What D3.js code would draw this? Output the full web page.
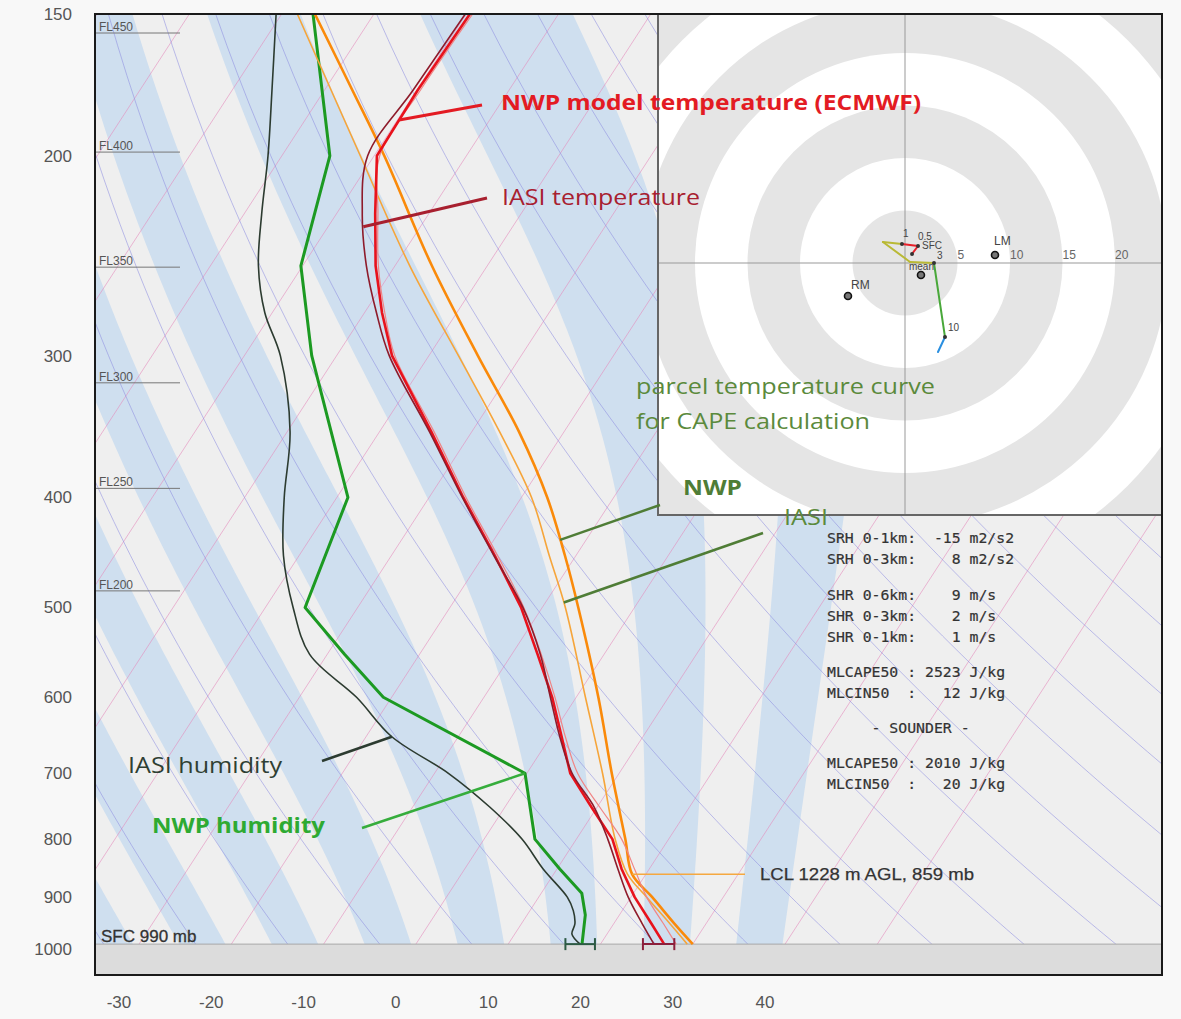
<!DOCTYPE html>
<html>
<head>
<meta charset="utf-8">
<script src="https://cdn.jsdelivr.net/npm/d3@7/dist/d3.min.js"></script>
<style>
  body { margin: 0; background: #f8f8f8; }
  text { font-family: "Liberation Sans", Arial, sans-serif; }
  .note { font-family: "Open Sans", sans-serif; }
  .mono { font-family: "DejaVu Sans Mono", monospace; white-space: pre; }
</style>
</head>
<body>
<svg id="skewt" width="1181" height="1019"></svg>
<script>
// ---- sounding data (pressure hPa, temperature degC) ----
const tempLevels = [150, 175, 200, 225, 250, 275, 300, 350, 400, 450, 500, 550, 600, 650, 700, 750, 800, 850, 900, 950, 990];
const nwpTemp  = [-59.6, -59.9, -59.7, -55.8, -52.1, -48.1, -44.0, -34.4, -26.3, -18.8, -12.3, -7.2, -2.6, 1.2, 4.7, 9.4, 13.9, 17.0, 20.4, 24.1, 26.9];
const iasiTemp = [-60.1, -60.4, -60.7, -57.2, -53.1, -48.7, -44.3, -34.6, -26.4, -18.9, -12.1, -6.9, -2.8, 1.0, 4.9, 9.7, 13.4, 16.6, 19.7, 23.1, 25.8];
const virtTemp = [-59.3, -59.6, -59.4, -55.5, -51.8, -47.8, -43.7, -34.1, -26.0, -18.5, -12.0, -6.8, -2.3, 1.6, 5.5, 10.3, 14.9, 18.4, 21.7, 25.4, 28.2];

const parcelLevels = [150, 175, 200, 250, 300, 350, 400, 450, 500, 600, 700, 800, 859, 900, 950, 990];
const nwpParcel  = [-76.4, -67.0, -58.9, -46.0, -34.7, -24.9, -17.2, -11.2, -6.1, 2.4, 9.2, 15.3, 18.5, 22.3, 26.6, 30.0];
const iasiParcel = [-78.3, -69.3, -61.5, -48.4, -36.8, -27.0, -18.9, -12.9, -7.5, 1.0, 8.2, 14.2, 18.0, 21.7, 26.1, 29.4];

const nwpDewLevels = [150, 200, 250, 300, 400, 500, 550, 600, 700, 800, 850, 893, 933, 990];
const nwpDew = [-76.6, -64.8, -60.2, -52.7, -38.8, -35.7, -28.1, -20.9, -0.2, 5.5, 10.3, 14.4, 16.3, 18.0];

const iasiDewLevels = [150, 175, 200, 225, 250, 275, 300, 350, 400, 450, 500, 550, 600, 650, 700, 750, 800, 850, 900, 925, 950, 970, 990];
const iasiDew = [-80.6, -75.7, -71.5, -68.1, -64.8, -60.8, -56.1, -49.7, -45.7, -41.7, -37.0, -31.9, -23.8, -17.2, -8.5, -1.6, 4.1, 8.5, 13.1, 14.7, 15.8, 16.2, 17.8];

const sfcPressure = 990;
const sfcTemp = 26.3, sfcTempErr = 1.7;
const sfcDew = 17.8, sfcDewErr = 1.6;
const lclPressure = 859, lclHeight = 1228;

const pressureTicks = [150, 200, 300, 400, 500, 600, 700, 800, 900, 1000];
const tempTicks = [-30, -20, -10, 0, 10, 20, 30, 40];
const flightLevels = ['FL450', 'FL400', 'FL350', 'FL300', 'FL250', 'FL200'];
const flightLevelP = [155.9, 198.5, 250.7, 317.0, 392.7, 483.5];

// hodograph (m/s)
const hodoKm = ['SFC', '0.5', '1', '2', '2.5', '3', '10', '12'];
const hodoU = [0.67, 1.24, -0.29, -2.1, 0.48, 2.76, 3.81, 3.14];
const hodoV = [0.86, 1.62, 1.81, 2.0, 0.1, 0.0, -7.05, -8.48];
const hodoLabelled = ['SFC', '0.5', '1', '3', '10'];
const stormNames = ['LM', 'RM', 'mean'];
const stormU = [8.57, -5.43, 1.52];
const stormV = [0.76, -3.14, -1.14];
const hodoRings = [5, 10, 15, 20, 25];

const statLines = [
  'SRH 0-1km:  -15 m2/s2',
  'SRH 0-3km:    8 m2/s2',
  'SHR 0-6km:    9 m/s',
  'SHR 0-3km:    2 m/s',
  'SHR 0-1km:    1 m/s',
  'MLCAPE50 : 2523 J/kg',
  'MLCIN50  :   12 J/kg',
  '     - SOUNDER -',
  'MLCAPE50 : 2010 J/kg',
  'MLCIN50  :   20 J/kg'
];

// ---- scales ----
const svg = d3.select('#skewt');
const P = { l: 95, r: 1162, t: 14, b: 975 };
const pBottom = 1054;
const y = d3.scaleLog().domain([150, pBottom]).range([P.t, P.b]);
const xT = d3.scaleLinear().domain([-30, 40]).range([119, 765]);
const skew = 0.6494;
const X = (T, p) => xT(T) + (P.b - y(p)) * skew;

const zip = (levels, vals) => levels.map((p, i) => [p, vals[i]]);
const pl = d3.line().x(d => X(d[1], d[0])).y(d => y(d[0]));

function at(levels, vals, p) {
  for (let i = 0; i < levels.length - 1; i++) {
    if (p >= levels[i] && p <= levels[i + 1]) {
      const f = Math.log(p / levels[i]) / Math.log(levels[i + 1] / levels[i]);
      return vals[i] + f * (vals[i + 1] - vals[i]);
    }
  }
  return vals[vals.length - 1];
}
const onLine = (levels, vals, p) => [X(at(levels, vals, p), p), y(p)];

const defs = svg.append('defs');
defs.append('clipPath').attr('id', 'clipPlot').append('rect')
  .attr('x', P.l).attr('y', P.t).attr('width', P.r - P.l).attr('height', P.b - P.t);

svg.append('rect').attr('width', 1181).attr('height', 1019).attr('fill', '#f8f8f8');

const bg = svg.append('g').attr('clip-path', 'url(#clipPlot)');
bg.append('rect')
  .attr('x', P.l).attr('y', P.t).attr('width', P.r - P.l).attr('height', P.b - P.t)
  .attr('fill', '#efefef');

// pseudo-adiabat bands
function lapse(p, T) {
  const Rd = 287.04, cp = 1005.7, L = 2.501e6, eps = 0.622;
  const tc = T - 273.15;
  const es = 6.112 * Math.exp(17.67 * tc / (tc + 243.5));
  const rs = eps * es / (p - es);
  return (Rd * T + L * rs) / (p * (cp + L * L * rs * eps / (Rd * T * T)));
}
function pseudoAdiabat(thw) {
  const up = [], down = [];
  let T = thw + 273.15;
  for (let p = 1000; p > 150; p -= 5) {
    const k1 = lapse(p, T);
    const k2 = lapse(p - 2.5, T - k1 * 2.5);
    T -= k2 * 5;
    up.push([p - 5, T - 273.15]);
  }
  T = thw + 273.15;
  for (let p = 1000; p < 1060; p += 5) {
    const k1 = lapse(p, T);
    const k2 = lapse(p + 2.5, T + k1 * 2.5);
    T += k2 * 5;
    down.push([p + 5, T - 273.15]);
  }
  return up.reverse().concat([[1000, thw]], down);
}
d3.range(-65, 40, 10).forEach(a => {
  const lo = pseudoAdiabat(a), hi = pseudoAdiabat(a + 5);
  bg.append('path')
    .attr('d', pl(lo.concat(hi.slice().reverse())) + 'Z')
    .attr('fill', '#cfdfef');
});

// isotherms
d3.range(-110, 60, 10).forEach(t => {
  bg.append('line')
    .attr('x1', X(t, pBottom)).attr('y1', y(pBottom))
    .attr('x2', X(t, 150)).attr('y2', y(150))
    .attr('stroke', '#e48cbc').attr('stroke-opacity', 0.6).attr('stroke-width', 1);
});

// dry adiabats
const dryP = d3.range(150, 1061, 10);
d3.range(230, 510, 10).forEach(th => {
  bg.append('path')
    .attr('d', pl(dryP.map(p => [p, th * Math.pow(p / 1000, 0.286) - 273.15])))
    .attr('fill', 'none')
    .attr('stroke', '#8c8ce0').attr('stroke-opacity', 0.55).attr('stroke-width', 1);
});

// below surface
bg.append('rect')
  .attr('x', P.l).attr('y', y(sfcPressure)).attr('width', P.r - P.l).attr('height', P.b - y(sfcPressure))
  .attr('fill', '#dcdcdc');
bg.append('line')
  .attr('x1', P.l).attr('x2', P.r).attr('y1', y(sfcPressure)).attr('y2', y(sfcPressure))
  .attr('stroke', '#a8a8a8').attr('stroke-width', 1);
svg.append('text')
  .attr('x', 101).attr('y', y(sfcPressure) - 2)
  .attr('font-size', 17).attr('fill', '#333').attr('stroke', '#333').attr('stroke-width', 0.3)
  .text(`SFC ${sfcPressure} mb`);

// flight levels
flightLevels.forEach((fl, i) => {
  const yy = y(flightLevelP[i]);
  bg.append('line').attr('x1', P.l).attr('x2', 180).attr('y1', yy).attr('y2', yy)
    .attr('stroke', '#777').attr('stroke-width', 1);
  svg.append('text').attr('x', 99).attr('y', yy - 2)
    .attr('font-family', 'DejaVu Sans').attr('font-size', 12).attr('fill', '#555')
    .text(fl);
});

// ---- profiles ----
const lines = bg.append('g').attr('fill', 'none').attr('stroke-linejoin', 'round');
const smooth = d3.line().x(d => X(d[1], d[0])).y(d => y(d[0])).curve(d3.curveCatmullRom);
lines.append('path').attr('d', smooth(zip(iasiDewLevels, iasiDew)))
  .attr('stroke', '#2c3b30').attr('stroke-width', 1.6);
lines.append('path').attr('d', pl(zip(nwpDewLevels, nwpDew)))
  .attr('stroke', '#1c9a22').attr('stroke-width', 3);
lines.append('path').attr('d', smooth(zip(parcelLevels, iasiParcel)))
  .attr('stroke', '#f6a53a').attr('stroke-width', 1.6);
lines.append('path').attr('d', smooth(zip(parcelLevels, nwpParcel)))
  .attr('stroke', '#fa8a0a').attr('stroke-width', 2.6);
lines.append('path').attr('d', smooth(zip(tempLevels, virtTemp)))
  .attr('stroke', '#f08585').attr('stroke-width', 1.2);
lines.append('path').attr('d', pl(zip(tempLevels, nwpTemp)))
  .attr('stroke', '#e8121c').attr('stroke-width', 2.6);
lines.append('path').attr('d', smooth(zip(tempLevels, iasiTemp)))
  .attr('stroke', '#8e1b2b').attr('stroke-width', 1.6);

// surface error bars
[[sfcDew, sfcDewErr, '#2c5a44'], [sfcTemp, sfcTempErr, '#8b1f3c']].forEach(([v, e, c]) => {
  const yy = y(sfcPressure);
  const x0 = X(v - e, sfcPressure), x1 = X(v + e, sfcPressure);
  const eb = svg.append('g').attr('stroke', c).attr('stroke-width', 2);
  eb.append('line').attr('x1', x0).attr('x2', x1).attr('y1', yy).attr('y2', yy);
  eb.append('line').attr('x1', x0).attr('x2', x0).attr('y1', yy - 6).attr('y2', yy + 6);
  eb.append('line').attr('x1', x1).attr('x2', x1).attr('y1', yy - 6).attr('y2', yy + 6);
});

// LCL marker
const lclX = X(at(parcelLevels, nwpParcel, lclPressure), lclPressure);
svg.append('line').attr('x1', lclX).attr('x2', 745).attr('y1', y(lclPressure)).attr('y2', y(lclPressure))
  .attr('stroke', '#f5a840').attr('stroke-width', 1.5);
svg.append('text').attr('x', 760).attr('y', y(lclPressure) + 6)
  .attr('font-size', 17).attr('fill', '#333').attr('stroke', '#333').attr('stroke-width', 0.25)
  .attr('textLength', 214).attr('lengthAdjust', 'spacingAndGlyphs')
  .text(`LCL ${lclHeight} m AGL, ${lclPressure} mb`);

// ---- hodograph inset ----
const Hd = { l: 658, t: 14, r: 1162, b: 515, cx: 905, cy: 263 };
const hs = d3.scaleLinear().domain([0, 5]).range([0, 52.5]);
defs.append('clipPath').attr('id', 'clipHodo').append('rect')
  .attr('x', Hd.l).attr('y', Hd.t).attr('width', Hd.r - Hd.l).attr('height', Hd.b - Hd.t);
const hg = svg.append('g').attr('clip-path', 'url(#clipHodo)');
hg.append('rect').attr('x', Hd.l).attr('y', Hd.t).attr('width', Hd.r - Hd.l).attr('height', Hd.b - Hd.t)
  .attr('fill', '#e5e5e5');
d3.range(35, 0, -5).forEach(r => {
  hg.append('circle').attr('cx', Hd.cx).attr('cy', Hd.cy).attr('r', hs(r))
    .attr('fill', (r / 5) % 2 ? '#e5e5e5' : '#ffffff');
});
hg.append('line').attr('x1', Hd.cx).attr('x2', Hd.cx).attr('y1', Hd.t).attr('y2', Hd.b).attr('stroke', '#999');
hg.append('line').attr('x1', Hd.l).attr('x2', Hd.r).attr('y1', Hd.cy).attr('y2', Hd.cy).attr('stroke', '#999');
hodoRings.forEach(r => {
  hg.append('text').attr('x', Hd.cx + hs(r)).attr('y', Hd.cy - 4)
    .attr('font-size', 12).attr('fill', '#666').text(r);
});
const hx = u => Hd.cx + hs(u), hy = v => Hd.cy - hs(v);
const segColors = ['#e8202a', '#e8202a', '#b9b935', '#b9b935', '#b9b935', '#49a83a', '#2a8fe0'];
for (let i = 0; i < hodoU.length - 1; i++) {
  hg.append('line')
    .attr('x1', hx(hodoU[i])).attr('y1', hy(hodoV[i]))
    .attr('x2', hx(hodoU[i + 1])).attr('y2', hy(hodoV[i + 1]))
    .attr('stroke', segColors[i]).attr('stroke-width', 2).attr('stroke-linecap', 'round');
}
// label offsets for the height labels
const kmOffset = { 'SFC': [10, -5], '0.5': [0, -6], '1': [1, -7], '3': [3, -4], '10': [3, -6] };
hodoKm.forEach((k, i) => {
  if (!hodoLabelled.includes(k)) return;
  hg.append('circle').attr('cx', hx(hodoU[i])).attr('cy', hy(hodoV[i])).attr('r', 2)
    .attr('fill', '#333');
  hg.append('text')
    .attr('x', hx(hodoU[i]) + kmOffset[k][0]).attr('y', hy(hodoV[i]) + kmOffset[k][1])
    .attr('font-size', 10).attr('fill', '#444').text(k);
});
const stormOffset = { 'LM': [-1, -10], 'RM': [3, -7], 'mean': [-12, -5] };
stormNames.forEach((n, i) => {
  hg.append('circle').attr('cx', hx(stormU[i])).attr('cy', hy(stormV[i])).attr('r', 3.5)
    .attr('fill', '#777').attr('stroke', '#111').attr('stroke-width', 1.6);
  hg.append('text')
    .attr('x', hx(stormU[i]) + stormOffset[n][0]).attr('y', hy(stormV[i]) + stormOffset[n][1])
    .attr('font-size', n === 'mean' ? 10 : 12).attr('fill', '#444').text(n);
});
svg.append('path').attr('d', `M${Hd.l},${Hd.t}V${Hd.b}H${Hd.r}`)
  .attr('fill', 'none').attr('stroke', '#666').attr('stroke-width', 2);

// ---- stats ----
const statY = [543, 564, 600, 621, 642, 677, 698, 733, 768, 789];
statLines.forEach((s, i) => {
  svg.append('text').attr('class', 'mono').attr('x', 827).attr('y', statY[i])
    .attr('font-size', 14.8).attr('fill', '#333').attr('stroke', '#333').attr('stroke-width', 0.2)
    .text(s);
});

// ---- annotations ----
function note(txt, x, yy, len, color, bold) {
  svg.append('text').attr('class', 'note').attr('x', x).attr('y', yy)
    .attr('font-size', 22).attr('font-weight', bold ? 700 : 400).attr('fill', color)
    .attr('textLength', len).attr('lengthAdjust', 'spacingAndGlyphs').text(txt);
}
function pointer(from, to, color, w) {
  svg.append('line').attr('x1', from[0]).attr('y1', from[1]).attr('x2', to[0]).attr('y2', to[1])
    .attr('stroke', color).attr('stroke-width', w);
}
pointer([482, 105], onLine(tempLevels, nwpTemp, 186), '#e31b23', 3);
note('NWP model temperature (ECMWF)', 501, 110, 420, '#e31b23', true);
pointer([487, 198], onLine(tempLevels, iasiTemp, 231), '#a8202f', 3);
note('IASI temperature', 502, 205, 198, '#a8202f', false);
note('parcel temperature curve', 636, 394, 299, '#5b8a3c', false);
note('for CAPE calculation', 636, 429, 234, '#5b8a3c', false);
pointer([660, 505], onLine(parcelLevels, nwpParcel, 436), '#4f7d36', 2.5);
note('NWP', 683, 495, 59, '#4f7d36', true);
pointer([763, 533], onLine(parcelLevels, iasiParcel, 495), '#4f7d36', 2.5);
note('IASI', 784, 525, 44, '#5b8a3c', false);
pointer([322, 761], onLine(iasiDewLevels, iasiDew, 650), '#2c3b30', 2.5);
note('IASI humidity', 128, 773, 154, '#2f3f33', false);
pointer([362, 828], onLine(nwpDewLevels, nwpDew, 700), '#36ad3c', 2.5);
note('NWP humidity', 152, 833, 173, '#2eaa32', true);

// ---- frame and axes ----
svg.append('rect').attr('x', P.l).attr('y', P.t).attr('width', P.r - P.l).attr('height', P.b - P.t)
  .attr('fill', 'none').attr('stroke', '#1a1a1a').attr('stroke-width', 2);

pressureTicks.forEach(p => {
  svg.append('text').attr('x', 72).attr('y', y(p)).attr('dy', '0.35em')
    .attr('text-anchor', 'end').attr('font-size', 17).attr('fill', '#555').text(p);
});
tempTicks.forEach(t => {
  svg.append('text').attr('x', xT(t)).attr('y', 1008)
    .attr('text-anchor', 'middle').attr('font-size', 17).attr('fill', '#555').text(t);
});
</script>
</body>
</html>
